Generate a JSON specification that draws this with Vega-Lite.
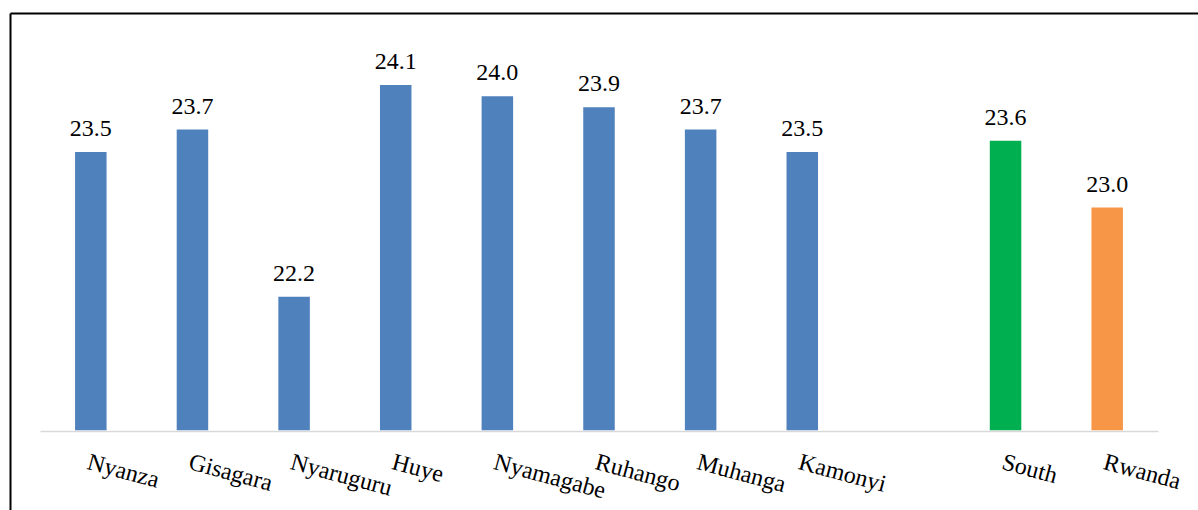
{
  "$schema": "https://vega.github.io/schema/vega-lite/v6.json",
  "autosize": {"type": "none"},
  "padding": {"left": 10, "top": 13, "right": 0, "bottom": 0},
  "width": 1188,
  "height": 497,
  "background": "white",
  "config": {"view": {"stroke": null}},
  "data": {"values": [
    {"area": "Nyanza", "age": 23.5, "level": "District"},
    {"area": "Gisagara", "age": 23.7, "level": "District"},
    {"area": "Nyaruguru", "age": 22.2, "level": "District"},
    {"area": "Huye", "age": 24.1, "level": "District"},
    {"area": "Nyamagabe", "age": 24.0, "level": "District"},
    {"area": "Ruhango", "age": 23.9, "level": "District"},
    {"area": "Muhanga", "age": 23.7, "level": "District"},
    {"area": "Kamonyi", "age": 23.5, "level": "District"},
    {"area": "South", "age": 23.6, "level": "Province"},
    {"area": "Rwanda", "age": 23.0, "level": "National"}
  ]},
  "layer": [
    {
      "layer": [
        {
          "mark": {"type": "bar", "width": {"band": 0.31}},
          "encoding": {
            "x": {
              "field": "area", "type": "nominal",
              "scale": {
                "domain": ["Nyanza", "Gisagara", "Nyaruguru", "Huye", "Nyamagabe", "Ruhango", "Muhanga", "Kamonyi", " ", "South", "Rwanda"],
                "range": [30, 1148], "paddingInner": 0, "paddingOuter": 0
              },
              "axis": {
                "orient": "bottom", "offset": -79, "domain": true, "domainColor": "#D9D9D9", "domainWidth": 1.5,
                "ticks": false, "grid": false, "title": null,
                "labelAngle": 15, "labelAlign": "left", "labelBaseline": "top", "labelPadding": 19,
                "labelFont": "Times New Roman, Liberation Serif, serif", "labelFontSize": 24, "labelColor": "black",
                "labelOverlap": false, "labelLimit": 300
              }
            },
            "y": {
              "field": "age", "type": "quantitative",
              "scale": {"domain": [20.285, 24.747], "zero": false, "nice": false},
              "axis": {"orient": "left", "domain": true, "domainColor": "black", "domainWidth": 2, "labels": false, "ticks": false, "grid": false, "title": null}
            },
            "y2": {"datum": 21},
            "color": {
              "field": "level", "type": "nominal",
              "scale": {"domain": ["District", "Province", "National"], "range": ["#4F81BD", "#00B050", "#F79646"]},
              "legend": null
            }
          }
        },
        {
          "mark": {"type": "text", "baseline": "alphabetic", "dy": -16, "font": "Times New Roman, Liberation Serif, serif", "fontSize": 24, "color": "black"},
          "encoding": {
            "x": {"field": "area", "type": "nominal"},
            "y": {"field": "age", "type": "quantitative"},
            "text": {"field": "age", "type": "quantitative", "format": ".1f"}
          }
        }
      ]
    },
    {
      "mark": {"type": "point", "opacity": 0},
      "encoding": {
        "x": {
          "field": "age", "type": "quantitative",
          "axis": {"orient": "top", "domain": true, "domainColor": "black", "domainWidth": 2, "labels": false, "ticks": false, "grid": false, "title": null}
        }
      }
    }
  ],
  "resolve": {"scale": {"x": "independent"}, "axis": {"x": "independent"}}
}
